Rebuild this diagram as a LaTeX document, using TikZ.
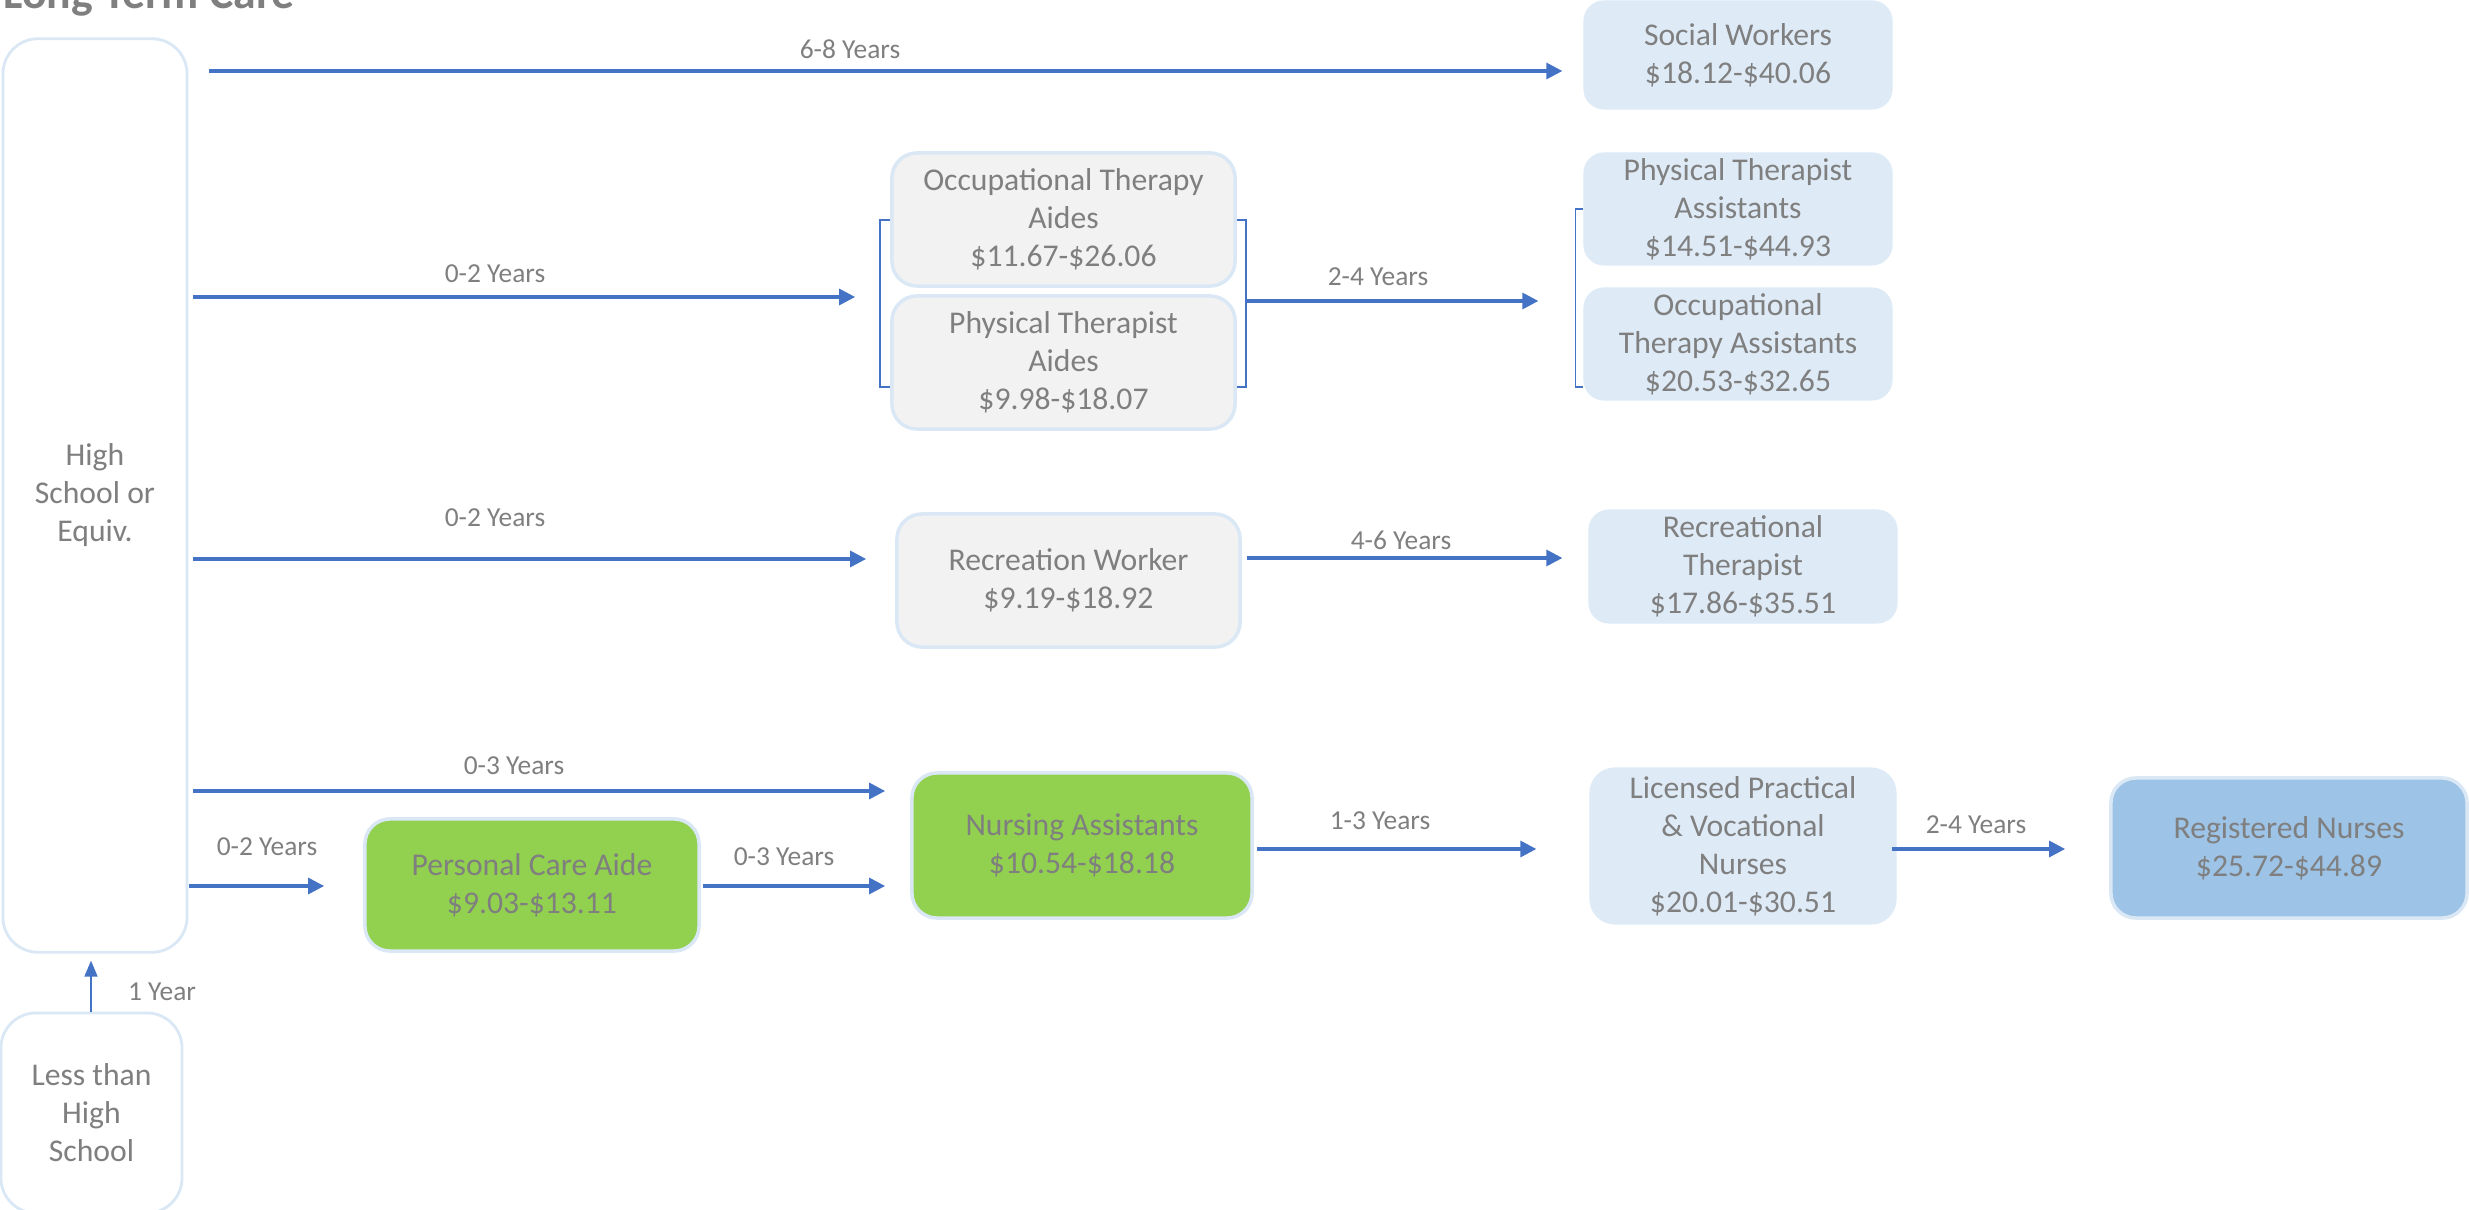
\documentclass[tikz,border=0pt]{standalone}
\usepackage{fontspec}
\setmainfont{Carlito}
\usetikzlibrary{arrows.meta}
\definecolor{txt}{HTML}{7F7F7F}
\definecolor{arrowblue}{HTML}{4472C4}
\definecolor{lblue}{HTML}{DEEBF7}
\definecolor{lborder}{HTML}{DAE8F5}
\definecolor{gfill}{HTML}{F2F2F2}
\definecolor{ggreen}{HTML}{92D050}
\definecolor{rnblue}{HTML}{9DC3E6}
\begin{document}
\begin{tikzpicture}[x=0.01cm,y=-0.01cm,
 box/.style={rounded corners=0.25cm, align=center, text=txt, font=\fontsize{9}{10.8}\selectfont, inner sep=0pt},
 lbox/.style={box, fill=lblue, draw=lblue, line width=0.3pt},
 gbox/.style={box, fill=gfill, draw=lborder, line width=1pt},
 grbox/.style={box, fill=ggreen, draw=lborder, line width=1pt},
 rnbox/.style={box, fill=rnblue, draw=lborder, line width=1pt},
 wbox/.style={box, fill=white, draw=lborder, line width=0.8pt, rounded corners=0.35cm},
 arr/.style={draw=arrowblue, line width=0.9pt, -{Triangle[length=0.16cm,width=0.16cm]}},
 thinarr/.style={draw=arrowblue, line width=0.5pt, -{Triangle[length=0.16cm,width=0.13cm]}},
 lab/.style={text=txt, font=\fontsize{7.8}{9}\selectfont, inner sep=0pt},
 brk/.style={draw=arrowblue, line width=0.45pt}]

\useasboundingbox (0,0) rectangle (2469,1210);

\node[anchor=base west, font=\fontsize{13}{15}\selectfont\bfseries, text=txt, inner sep=0pt] (title) at (3,9) {Long-Term Care};

% boxes
\node[wbox, minimum width=1.84cm, minimum height=9.13cm] (hs) at (95,495.5) {High\\School or\\Equiv.};
\node[wbox, minimum width=1.81cm, minimum height=2.00cm] (lths) at (91.5,1113) {Less than\\High\\School};
\node[lbox, minimum width=3.08cm, minimum height=1.08cm, rounded corners=0.2cm] (sw) at (1738,55) {Social Workers\\\$18.12-\$40.06};
\node[gbox, minimum width=3.43cm, minimum height=1.33cm] (ota) at (1063.5,219.5) {Occupational Therapy\\Aides\\\$11.67-\$26.06};
\node[gbox, minimum width=3.43cm, minimum height=1.33cm] (pta) at (1063.5,362.5) {Physical Therapist\\Aides\\\$9.98-\$18.07};
\node[lbox, minimum width=3.08cm, minimum height=1.12cm, rounded corners=0.2cm] (ptas) at (1738,209) {Physical Therapist\\Assistants\\\$14.51-\$44.93};
\node[lbox, minimum width=3.08cm, minimum height=1.12cm, rounded corners=0.2cm] (otas) at (1738,344) {Occupational\\Therapy Assistants\\\$20.53-\$32.65};
\node[gbox, minimum width=3.43cm, minimum height=1.33cm] (rw) at (1068.5,580.5) {Recreation Worker\\\$9.19-\$18.92};
\node[lbox, minimum width=3.08cm, minimum height=1.13cm, rounded corners=0.2cm] (rt) at (1743,566.5) {Recreational\\Therapist\\\$17.86-\$35.51};
\node[grbox, minimum width=3.34cm, minimum height=1.32cm] (pca) at (532,885) {Personal Care Aide\\\$9.03-\$13.11};
\node[grbox, minimum width=3.40cm, minimum height=1.45cm] (na) at (1082,845.5) {Nursing Assistants\\\$10.54-\$18.18};
\node[lbox, minimum width=3.06cm, minimum height=1.56cm] (lpn) at (1743,846) {Licensed Practical\\\& Vocational\\Nurses\\\$20.01-\$30.51};
\node[rnbox, minimum width=3.56cm, minimum height=1.40cm] (rn) at (2289,848) {Registered Nurses\\\$25.72-\$44.89};

% brackets
\draw[brk] (ota.west |- 0,220) -- ++(-10,0) coordinate (lbr) |- (pta.west |- 0,387);
\draw[brk] (ota.east |- 0,220) -- ++(9,0) coordinate (rbr) |- (pta.east |- 0,387);
\draw[brk] (ptas.west |- 0,209) -- ++(-8,0) coordinate (abr) |- (otas.west |- 0,387);

% arrows
\draw[arr, shorten <=0.21cm, shorten >=0.21cm] (hs.east |- 0,71) -- (sw.west |- 0,71);
\draw[arr, shorten <=0.05cm, shorten >=0.35cm] (hs.east |- 0,297) -- (ota.west |- 0,297);
\draw[arr, shorten <=0.09cm, shorten >=0.45cm] (ota.east |- 0,301) -- (ptas.west |- 0,301);
\draw[arr, shorten <=0.05cm, shorten >=0.29cm] (hs.east |- 0,559) -- (rw.west |- 0,559);
\draw[arr, shorten <=0.05cm, shorten >=0.26cm] (rw.east |- 0,558) -- (rt.west |- 0,558);
\draw[arr, shorten <=0.05cm, shorten >=0.25cm] (hs.east |- 0,791) -- (na.west |- 0,791);
\draw[arr, shorten <=0.01cm, shorten >=0.39cm] (hs.east |- 0,886) -- (pca.west |- 0,886);
\draw[arr, shorten <=0.02cm, shorten >=0.25cm] (pca.east |- 0,886) -- (na.west |- 0,886);
\draw[arr, shorten <=0.03cm, shorten >=0.53cm] (na.east |- 0,849) -- (lpn.west |- 0,849);
\draw[arr, shorten <=-0.05cm, shorten >=0.44cm] (lpn.east |- 0,849) -- (rn.west |- 0,849);
\draw[thinarr, shorten >=0.07cm] (lths.north -| 91,0) -- (hs.south -| 91,0);

% labels
\node[lab] (l1) at (850,49) {6-8 Years};
\node[lab] (l2) at (495,274) {0-2 Years};
\node[lab] (l3) at (1378,277) {2-4 Years};
\node[lab] (l4) at (495,518) {0-2 Years};
\node[lab] (l5) at (1401,540) {4-6 Years};
\node[lab] (l6) at (514,766) {0-3 Years};
\node[lab] (l7) at (267,847) {0-2 Years};
\node[lab] (l8) at (784,857) {0-3 Years};
\node[lab] (l9) at (1380,821) {1-3 Years};
\node[lab] (l10) at (1976,825) {2-4 Years};
\node[lab] (l11) at (162,992) {1 Year};
\end{tikzpicture}
\end{document}
